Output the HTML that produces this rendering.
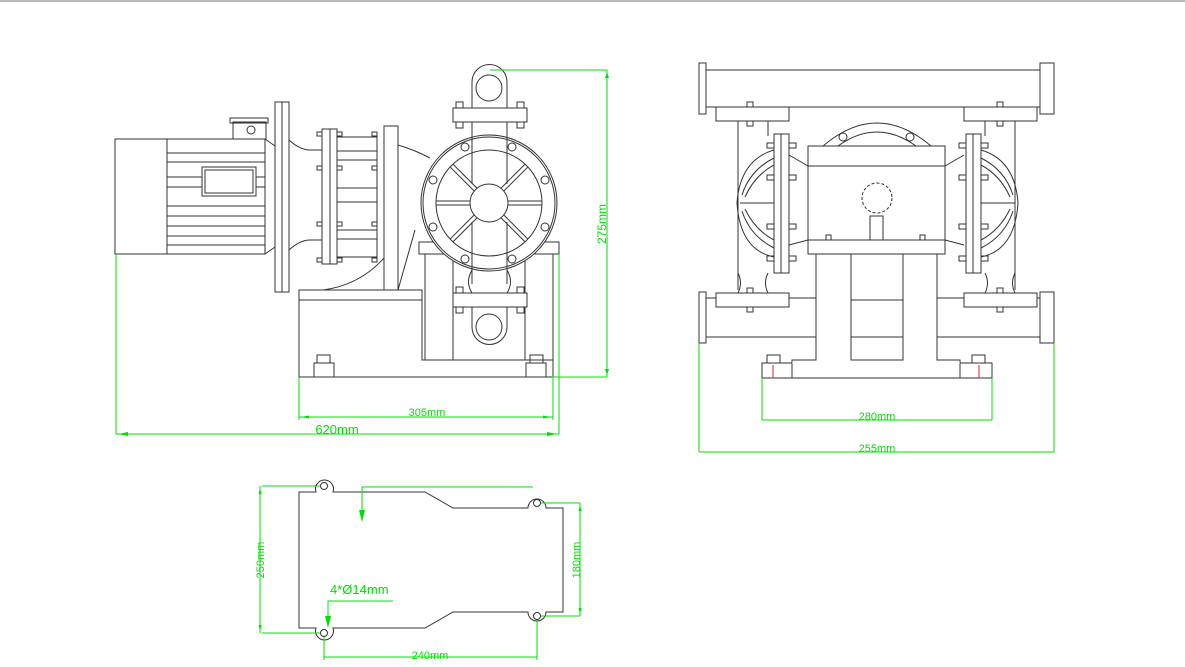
<!DOCTYPE html>
<html><head><meta charset="utf-8"><style>
html,body{margin:0;padding:0;background:#fff;}
svg{display:block;}
text{font-family:"Liberation Sans",sans-serif;fill:#00e000;}
</style></head><body>
<svg width="1185" height="667" viewBox="0 0 1185 667" xmlns="http://www.w3.org/2000/svg">
<line x1="0" y1="1" x2="1185" y2="1" stroke="#777" stroke-width="1"/>
<g fill="none" stroke="#333" stroke-width="1">
<!-- FRONT VIEW -->
<rect x="115" y="139" width="52" height="115"/>
<rect x="167" y="139" width="98" height="115"/>
<line x1="167" y1="153" x2="265" y2="153"/><line x1="167" y1="162" x2="265" y2="162"/>
<line x1="167" y1="177" x2="265" y2="177"/><line x1="167" y1="187" x2="265" y2="187"/>
<line x1="167" y1="206" x2="265" y2="206"/><line x1="167" y1="216" x2="265" y2="216"/>
<line x1="167" y1="226" x2="265" y2="226"/><line x1="167" y1="236" x2="265" y2="236"/>
<line x1="167" y1="245" x2="265" y2="245"/>
<rect x="202" y="167" width="54" height="29" fill="#fff"/><rect x="205" y="170" width="48" height="23"/>
<rect x="233" y="122" width="33" height="17"/><rect x="230" y="118" width="38" height="5"/>
<circle cx="251" cy="130" r="4"/>
<path d="M265 139 L275 146 M265 254 L275 247"/>
<rect x="275" y="102" width="14" height="190"/><line x1="282" y1="102" x2="282" y2="292"/>
<path d="M289 140 Q300 150 310 150 L322 150 M289 250 Q300 240 310 240 L322 240"/>
<rect x="322" y="129" width="15" height="135"/><line x1="330" y1="129" x2="330" y2="264"/>
<rect x="337" y="137" width="40" height="120"/>
<line x1="337" y1="151" x2="377" y2="151"/><line x1="337" y1="160" x2="377" y2="160"/>
<line x1="337" y1="188" x2="377" y2="188"/><line x1="337" y1="202" x2="377" y2="202"/>
<line x1="337" y1="230" x2="377" y2="230"/><line x1="337" y1="239" x2="377" y2="239"/>
<rect x="317" y="132" width="5" height="4"/><rect x="317" y="166" width="5" height="4"/><rect x="317" y="222" width="5" height="4"/><rect x="317" y="258" width="5" height="4"/>
<rect x="337" y="132" width="5" height="4"/><rect x="337" y="166" width="5" height="4"/><rect x="337" y="222" width="5" height="4"/><rect x="337" y="258" width="5" height="4"/>
<rect x="372" y="132" width="5" height="4"/><rect x="372" y="166" width="5" height="4"/><rect x="372" y="222" width="5" height="4"/><rect x="372" y="258" width="5" height="4"/>
<rect x="384" y="126" width="14" height="164"/>
<path d="M398 145 Q415 150 430 158 M384 258 Q360 285 323 290 M398 290 L415 230"/>
<rect x="299" y="290" width="123" height="10"/>
<path d="M299 300 L299 377 L553 377 M422 300 L422 360 L553 360"/>
<rect x="419" y="242" width="140" height="12"/>
<line x1="425" y1="254" x2="425" y2="360"/><line x1="553" y1="254" x2="553" y2="377"/>
<line x1="453" y1="254" x2="453" y2="360"/><line x1="525" y1="254" x2="525" y2="360"/>
<rect x="314" y="363" width="20" height="14"/><rect x="317" y="355" width="13" height="8"/>
<rect x="526" y="363" width="20" height="14"/><rect x="530" y="355" width="13" height="8"/>
<!-- pump -->
<circle cx="489" cy="203" r="68" fill="#fff"/><circle cx="489" cy="203" r="66"/>
<circle cx="489" cy="203" r="53"/><circle cx="489" cy="203" r="19"/>
<g>
<g transform="rotate(0 489 203)"><line x1="508" y1="201" x2="542" y2="201"/><line x1="508" y1="205" x2="542" y2="205"/></g>
<g transform="rotate(180 489 203)"><line x1="508" y1="201" x2="542" y2="201"/><line x1="508" y1="205" x2="542" y2="205"/></g>
<g transform="rotate(45 489 203)"><line x1="508" y1="201" x2="542" y2="201"/><line x1="508" y1="205" x2="542" y2="205"/></g>
<g transform="rotate(135 489 203)"><line x1="508" y1="201" x2="542" y2="201"/><line x1="508" y1="205" x2="542" y2="205"/></g>
<g transform="rotate(225 489 203)"><line x1="508" y1="201" x2="542" y2="201"/><line x1="508" y1="205" x2="542" y2="205"/></g>
<g transform="rotate(315 489 203)"><line x1="508" y1="201" x2="542" y2="201"/><line x1="508" y1="205" x2="542" y2="205"/></g>
</g>
<line x1="472" y1="122" x2="472" y2="184"/><line x1="507" y1="122" x2="507" y2="184"/>
<line x1="472" y1="222" x2="472" y2="284"/><line x1="507" y1="222" x2="507" y2="284"/>
<g>
<circle cx="465" cy="147" r="4"/><circle cx="512" cy="147" r="4"/><circle cx="433" cy="180" r="4"/><circle cx="545" cy="180" r="4"/>
<circle cx="433" cy="227" r="4"/><circle cx="545" cy="227" r="4"/><circle cx="465" cy="259" r="4"/><circle cx="512" cy="259" r="4"/>
</g>
<path d="M472 108 L472 82 A17 17 0 0 1 507 82 L507 108"/>
<circle cx="489" cy="88" r="13"/>
<rect x="453" y="108" width="74" height="14" fill="#fff"/>
<rect x="456" y="102" width="7" height="6"/><rect x="517" y="102" width="7" height="6"/>
<rect x="456" y="122" width="7" height="6"/><rect x="517" y="122" width="7" height="6"/>
<path d="M472 270 Q465 282 472 293 M507 270 Q514 282 507 293"/>
<rect x="453" y="293" width="74" height="14" fill="#fff"/>
<rect x="456" y="287" width="7" height="6"/><rect x="517" y="287" width="7" height="6"/>
<rect x="456" y="307" width="7" height="6"/><rect x="517" y="307" width="7" height="6"/>
<path d="M472 307 L472 327 A17 17 0 0 0 507 327 L507 307"/>
<circle cx="489" cy="327" r="13"/>

<!-- SIDE VIEW -->
<rect x="706" y="70" width="334" height="37"/>
<rect x="699" y="63" width="7" height="51"/><rect x="1040" y="63" width="14" height="51"/>
<rect x="716" y="107" width="73" height="14"/><rect x="964" y="107" width="73" height="14"/>
<rect x="747" y="102" width="6" height="5"/><rect x="747" y="121" width="6" height="5"/>
<rect x="997" y="102" width="6" height="5"/><rect x="997" y="121" width="6" height="5"/>
<path d="M738 121 L738 290 M768 121 L768 136 M1015 121 L1015 290 M985 121 L985 136"/>
<path d="M823 146 Q877 100 931 146 M838 146 Q877 118 916 146"/>
<circle cx="843" cy="137" r="4"/><circle cx="910" cy="137" r="4"/>
<rect x="808" y="146" width="137" height="108" fill="#fff"/>
<line x1="808" y1="166" x2="945" y2="166"/><line x1="808" y1="240" x2="945" y2="240"/>
<circle cx="877" cy="198" r="15" stroke-dasharray="3,2"/>
<rect x="870" y="216" width="13" height="24"/>
<rect x="826" y="235" width="5" height="5"/><rect x="920" y="235" width="5" height="5"/>
<path d="M789 155 L808 166 M789 245 L808 240 M964 155 L945 166 M964 245 L945 240"/>
<rect x="774" y="134" width="15" height="139"/><line x1="781" y1="134" x2="781" y2="273"/>
<rect x="966" y="134" width="15" height="139"/><line x1="973" y1="134" x2="973" y2="273"/>
<path d="M774 150 Q740 160 737 203 Q740 250 774 257 M774 158 Q750 170 742 195 M774 248 Q750 236 742 211 M774 165 Q755 175 745 197 M774 240 Q755 230 745 209"/>
<path d="M981 150 Q1015 160 1018 203 Q1015 250 981 257 M981 158 Q1005 170 1013 195 M981 248 Q1005 236 1013 211 M981 165 Q1000 175 1010 197 M981 240 Q1000 230 1010 209"/>
<line x1="740" y1="203" x2="774" y2="203"/><line x1="981" y1="203" x2="1015" y2="203"/>
<rect x="767" y="143" width="7" height="5"/><rect x="789" y="143" width="7" height="5"/><rect x="767" y="175" width="7" height="5"/><rect x="789" y="175" width="7" height="5"/>
<rect x="767" y="224" width="7" height="5"/><rect x="789" y="224" width="7" height="5"/><rect x="767" y="256" width="7" height="5"/><rect x="789" y="256" width="7" height="5"/>
<rect x="959" y="143" width="7" height="5"/><rect x="981" y="143" width="7" height="5"/><rect x="959" y="175" width="7" height="5"/><rect x="981" y="175" width="7" height="5"/>
<rect x="959" y="224" width="7" height="5"/><rect x="981" y="224" width="7" height="5"/><rect x="959" y="256" width="7" height="5"/><rect x="981" y="256" width="7" height="5"/>
<path d="M768 273 Q763 283 768 293 M738 273 Q743 283 738 293 M985 273 Q990 283 985 293 M1015 273 Q1010 283 1015 293"/>
<rect x="716" y="293" width="73" height="14"/><rect x="964" y="293" width="73" height="14"/>
<rect x="747" y="288" width="6" height="5"/><rect x="747" y="307" width="6" height="5"/>
<rect x="997" y="288" width="6" height="5"/><rect x="997" y="307" width="6" height="5"/>
<rect x="699" y="292" width="7" height="51"/><rect x="1040" y="292" width="14" height="51"/>
<path d="M706 298 L716 298 M789 298 L816 298 M706 337 L816 337 M937 298 L964 298 M937 337 L1040 337 M1037 298 L1040 298"/>
<path d="M816 254 L816 360 L792 360 L792 378 M937 254 L937 360 L960 360 L960 378"/>
<path d="M851 254 L851 360 L903 360 L903 254 M851 300 L903 300 M851 337 L903 337"/>
<rect x="762" y="363" width="230" height="15"/>
<line x1="792" y1="363" x2="960" y2="363" stroke="#fff"/>
<path d="M762 363 L792 363 M960 363 L992 363"/>
<rect x="767" y="355" width="13" height="8"/><rect x="972" y="355" width="13" height="8"/>

<!-- BASE PLATE -->
<path d="M299 492 L316 492 A9 9 0 1 1 333 492 L425 492 L453 508 L528 508 A9 9 0 1 1 546 508 L563 508 L563 612 L546 612 A9 9 0 1 1 528 612 L453 612 L425 628 L333 628 A9 9 0 1 1 316 628 L299 628 Z"/>
<circle cx="324" cy="486" r="3.5"/><circle cx="537" cy="503" r="3.5"/><circle cx="537" cy="616" r="3.5"/><circle cx="324" cy="633" r="3.5"/>
</g>
<g stroke="#e02020" stroke-width="1"><line x1="773" y1="365" x2="773" y2="378"/><line x1="979" y1="365" x2="979" y2="378"/></g>

<!-- DIMENSIONS -->
<g stroke="#00e000" stroke-width="1" fill="none">
<path d="M490 70 L607 70 L607 377 M552 377 L607 377"/>
<path d="M116 254 L116 434 M299 377 L299 420 M553 377 L553 420 M559 254 L559 434"/>
<line x1="299" y1="417" x2="553" y2="417"/>
<line x1="116" y1="434" x2="559" y2="434"/>
<path d="M699 343 L699 452 M1054 343 L1054 452 M762 378 L762 420 M992 378 L992 420"/>
<line x1="762" y1="420" x2="992" y2="420"/>
<line x1="699" y1="452" x2="1054" y2="452"/>
<path d="M262 486 L320 486 M262 633 L320 633 M260 486 L260 633"/>
<path d="M541 503 L580 503 M541 616 L580 616 M580 503 L580 616"/>
<path d="M324 637 L324 660 M537 620 L537 660 M324 657 L537 657"/>
<path d="M533 487 L362 487 L362 515"/>
<path d="M393 601 L328 601 L328 622"/>
</g>
<g fill="#00e000">
<path d="M607 72 l-2 6 h4z M607 375 l-2 -6 h4z"/>
<path d="M118 434 l10 -2 v4z M557 434 l-10 -2 v4z"/>
<path d="M301 417 l8 -1.5 v3z M551 417 l-8 -1.5 v3z"/>
<path d="M362 522 l-3 -12 h6z M328 628 l-3 -12 h6z"/>
<path d="M260 488 l-1.5 6 h3z M260 631 l-1.5 -6 h3z M580 505 l-1.5 6 h3z M580 614 l-1.5 -6 h3z"/>
</g>
<text x="606" y="224" font-size="12" transform="rotate(-90 606 224)" text-anchor="middle">275mm</text>
<text x="427" y="416" font-size="11" text-anchor="middle">305mm</text>
<text x="337" y="434" font-size="13" text-anchor="middle">620mm</text>
<text x="877" y="420" font-size="11" text-anchor="middle">280mm</text>
<text x="877" y="452" font-size="11" text-anchor="middle">255mm</text>
<text x="264" y="560" font-size="11" transform="rotate(-90 264 560)" text-anchor="middle">250mm</text>
<text x="580" y="560" font-size="11" transform="rotate(-90 580 560)" text-anchor="middle">180mm</text>
<text x="430" y="659" font-size="11" text-anchor="middle">240mm</text>
<text x="330" y="594" font-size="13">4*Ø14mm</text>
</svg>
</body></html>
